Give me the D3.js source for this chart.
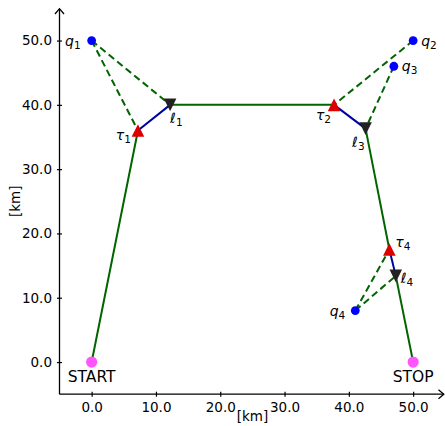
<!DOCTYPE html>
<meta charset="utf-8">
<style>
body { margin: 0; }
text { font-family: "DejaVu Sans", sans-serif; fill: #000; }
.axis text { font-size: 13.5px; }
.axis line { stroke: #000; stroke-width: 1.2; }
.lbl { font-size: 14px; }
</style>
<svg class="chart" width="445" height="426"></svg>
<script src="https://cdn.jsdelivr.net/npm/d3@7"></script>
<script>
// route stops, in driving order
var routeNames = ["START", "τ1", "ℓ1", "τ2", "ℓ3", "τ4", "ℓ4", "STOP"];
var routeX = [0, 7.2, 12.2, 37.7, 42.6, 46.3, 47.3, 50];
var routeY = [0, 36.0, 40.0, 40.0, 36.3, 17.5, 13.4, 0];

// passengers
var qNames = ["q1", "q2", "q3", "q4"];
var qX = [0, 50, 47, 41];
var qY = [50, 50, 46, 8];

// walking links passenger -> stop
var walks = [["q1", "τ1"], ["q1", "ℓ1"], ["q2", "τ2"], ["q3", "ℓ3"], ["q4", "τ4"], ["q4", "ℓ4"]];

var ticks = [0, 10, 20, 30, 40, 50];

var svg = d3.select(".chart");

var x = d3.scaleLinear().domain([-5, 55]).range([59.5, 445.3]);
var y = d3.scaleLinear().domain([-5, 55]).range([394.2, 8.4]);

var pos = {};
routeNames.forEach(function(n, i){ pos[n] = [routeX[i], routeY[i]]; });
qNames.forEach(function(n, i){ pos[n] = [qX[i], qY[i]]; });

// axes
var xAxis = svg.append("g")
	.attr("class", "axis")
	.attr("transform", "translate(0," + y(-5) + ")")
	.call(d3.axisBottom(x).tickValues(ticks).tickFormat(d3.format(".1f")).tickSize(2.5).tickPadding(6));
xAxis.select(".domain").remove();
xAxis.selectAll(".tick line").attr("y1", -2.5);

var yAxis = svg.append("g")
	.attr("class", "axis")
	.attr("transform", "translate(" + x(-5) + ",0)")
	.call(d3.axisLeft(y).tickValues(ticks).tickFormat(d3.format(".1f")).tickSize(2.5).tickPadding(5));
yAxis.select(".domain").remove();
yAxis.selectAll(".tick line").attr("x1", 2.5);

// axis lines with open arrow heads
svg.append("line").attr("x1", x(-5)).attr("y1", y(-5)).attr("x2", 443.5).attr("y2", y(-5))
	.attr("stroke", "#000").attr("stroke-width", 1.3);
svg.append("path").attr("d", "M438.5," + (y(-5) - 4.5) + "L443.8," + y(-5) + "L438.5," + (y(-5) + 4.5))
	.attr("fill", "none").attr("stroke", "#000").attr("stroke-width", 1.3);
svg.append("line").attr("x1", x(-5)).attr("y1", y(-5)).attr("x2", x(-5)).attr("y2", 9)
	.attr("stroke", "#000").attr("stroke-width", 1.3);
svg.append("path").attr("d", "M" + (x(-5) - 4.5) + ",14L" + x(-5) + ",8.7L" + (x(-5) + 4.5) + ",14")
	.attr("fill", "none").attr("stroke", "#000").attr("stroke-width", 1.3);

svg.append("text").attr("x", x(25)).attr("y", 421).attr("text-anchor", "middle")
	.style("font-size", "13.5px").text("[km]");
svg.append("text").attr("transform", "translate(19.5," + y(25) + ") rotate(-90)")
	.attr("text-anchor", "middle").style("font-size", "13.5px").text("[km]");

// walking lines
svg.selectAll(".walk")
		.data(walks)
	.enter().append("line")
		.attr("class", "walk")
		.attr("x1", function(d){ return x(pos[d[0]][0]); })
		.attr("y1", function(d){ return y(pos[d[0]][1]); })
		.attr("x2", function(d){ return x(pos[d[1]][0]); })
		.attr("y2", function(d){ return y(pos[d[1]][1]); })
		.attr("stroke", "#006400")
		.attr("stroke-width", 2)
		.attr("stroke-dasharray", "7,4");

// route segments: green driving empty, blue with passenger
var segs = d3.range(routeNames.length - 1);
svg.selectAll(".seg")
		.data(segs)
	.enter().append("line")
		.attr("class", "seg")
		.attr("x1", function(i){ return x(routeX[i]); })
		.attr("y1", function(i){ return y(routeY[i]); })
		.attr("x2", function(i){ return x(routeX[i + 1]); })
		.attr("y2", function(i){ return y(routeY[i + 1]); })
		.attr("stroke", function(i){ return routeNames[i][0] == "τ" ? "#0000a0" : "#006400"; })
		.attr("stroke-width", 2);

// markers
routeNames.forEach(function(n, i){
	var px = x(routeX[i]), py = y(routeY[i]);
	if (n == "START" || n == "STOP") {
		svg.append("circle").attr("cx", px).attr("cy", py).attr("r", 5.6).attr("fill", "#ff55ff");
	} else if (n[0] == "τ") {
		svg.append("path").attr("d", "M0,-6.3L6.3,6.3L-6.3,6.3Z")
			.attr("transform", "translate(" + px + "," + py + ")").attr("fill", "#dd0000");
	} else {
		svg.append("path").attr("d", "M0,6.3L6.3,-6.3L-6.3,-6.3Z")
			.attr("transform", "translate(" + px + "," + py + ")").attr("fill", "#222");
	}
});
qNames.forEach(function(n, i){
	svg.append("circle").attr("cx", x(qX[i])).attr("cy", y(qY[i])).attr("r", 4.4).attr("fill", "#0000ff");
});

// labels
var place = {
	"START": [0, 20, "middle"], "STOP": [0, 20, "middle"],
	"q1": [-11, 5, "end"], "q2": [8, 5, "start"], "q3": [8, 5, "start"], "q4": [-10, 5, "end"],
	"τ1": [-7, 9, "end"], "τ2": [-3, 15, "end"], "τ4": [6, -3, "start"],
	"ℓ1": [0, 18, "start"], "ℓ3": [-1, 18, "end"], "ℓ4": [5, 7, "start"]
};
Object.keys(place).forEach(function(n){
	var p = place[n];
	var t = svg.append("text").attr("class", "lbl")
		.attr("x", x(pos[n][0]) + p[0]).attr("y", y(pos[n][1]) + p[1])
		.attr("text-anchor", p[2]);
	if (n == "START" || n == "STOP") {
		t.style("font-size", "15.5px").text(n);
	} else {
		t.append("tspan").style("font-style", "italic").text(n[0]);
		t.append("tspan").attr("dy", 3).style("font-size", "10.5px").text(n.slice(1));
	}
});
</script>
